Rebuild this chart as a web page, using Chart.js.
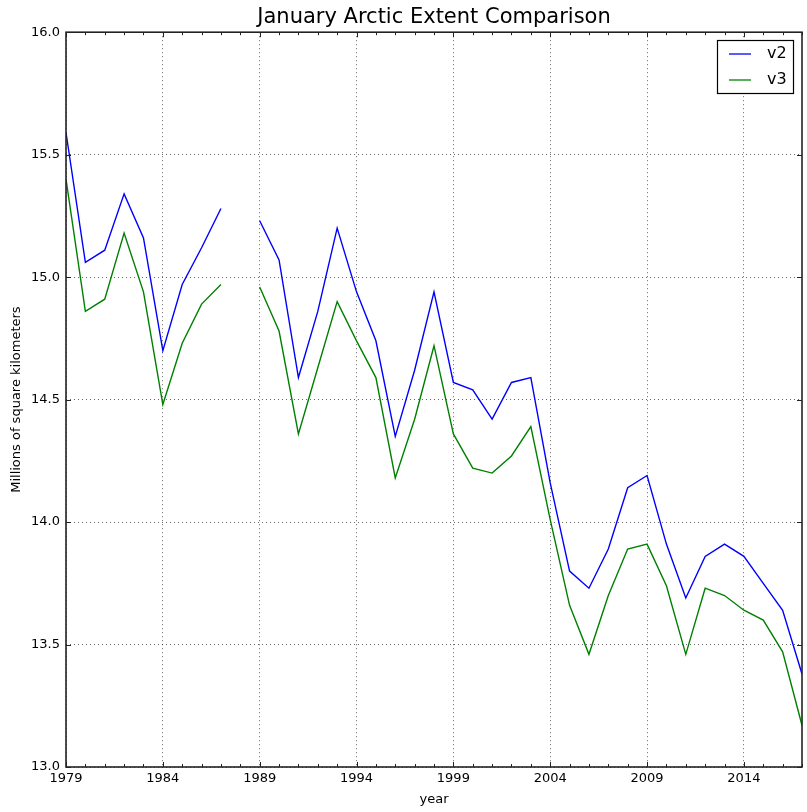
<!DOCTYPE html>
<html>
<head>
<meta charset="utf-8">
<script src="https://cdn.jsdelivr.net/npm/chart.js@4"></script>
<style>
  html, body { margin: 0; padding: 0; background: #fff; }
  #wrap { width: 807px; height: 812px; }
</style>
</head>
<body>
<div id="wrap"><canvas id="c" width="807" height="812"></canvas></div>
<script>
// January sea ice extent, millions of km², two data versions (1988 missing)
const years = [1979, 1980, 1981, 1982, 1983, 1984, 1985, 1986, 1987, 1988,
               1989, 1990, 1991, 1992, 1993, 1994, 1995, 1996, 1997, 1998,
               1999, 2000, 2001, 2002, 2003, 2004, 2005, 2006, 2007, 2008,
               2009, 2010, 2011, 2012, 2013, 2014, 2015, 2016, 2017];
const v2 = [15.59, 15.06, 15.11, 15.34, 15.16, 14.70, 14.97, 15.12, 15.28, null,
            15.23, 15.07, 14.59, 14.86, 15.20, 14.94, 14.74, 14.35, 14.62, 14.94,
            14.57, 14.54, 14.42, 14.57, 14.59, 14.16, 13.80, 13.73, 13.89, 14.14,
            14.19, 13.91, 13.69, 13.86, 13.91, 13.86, 13.75, 13.64, 13.38];
const v3 = [15.40, 14.86, 14.91, 15.18, 14.94, 14.48, 14.73, 14.89, 14.97, null,
            14.96, 14.78, 14.36, 14.63, 14.90, 14.74, 14.59, 14.18, 14.42, 14.72,
            14.36, 14.22, 14.20, 14.27, 14.39, 14.01, 13.66, 13.46, 13.70, 13.89,
            13.91, 13.74, 13.46, 13.73, 13.70, 13.64, 13.60, 13.47, 13.17];
const xTickYears = [1979, 1984, 1989, 1994, 1999, 2004, 2009, 2014];
const yTickValues = [13.0, 13.5, 14.0, 14.5, 15.0, 15.5, 16.0];

const seriesNames = ['v2', 'v3'];
const seriesColors = ['#0000ff', '#008000'];
const FONT = 'DejaVu Sans';

const toPoints = vals => years.map((yr, i) => ({ x: yr, y: vals[i] }));

// Frame, inward tick marks and the boxed legend inside the plot
const decor = {
  id: 'decor',
  afterDraw(chart) {
    const { ctx, chartArea: a, scales: { x, y } } = chart;
    ctx.save();
    ctx.strokeStyle = '#222';
    ctx.lineWidth = 1;
    ctx.setLineDash([]);
    ctx.beginPath();
    years.forEach(yr => {
      const px = Math.round(x.getPixelForValue(yr)) + 0.5;
      const len = xTickYears.includes(yr) ? 5 : 3;
      ctx.moveTo(px, a.bottom); ctx.lineTo(px, a.bottom - len);
      ctx.moveTo(px, a.top); ctx.lineTo(px, a.top + len);
    });
    yTickValues.forEach(v => {
      const py = Math.round(y.getPixelForValue(v)) + 0.5;
      ctx.moveTo(a.left, py); ctx.lineTo(a.left + 5, py);
      ctx.moveTo(a.right, py); ctx.lineTo(a.right - 5, py);
    });
    ctx.stroke();

    ctx.lineWidth = 1.6;
    ctx.strokeStyle = '#222';
    ctx.strokeRect(a.left, a.top, a.right - a.left, a.bottom - a.top);

    // legend
    const bx = 717.5, by = 40.5, bw = 76, bh = 53;
    ctx.fillStyle = '#fff';
    ctx.fillRect(bx, by, bw, bh);
    ctx.lineWidth = 1.2;
    ctx.strokeStyle = '#000';
    ctx.strokeRect(bx, by, bw, bh);
    ctx.font = '16px "' + FONT + '"';
    ctx.textBaseline = 'middle';
    ctx.textAlign = 'left';
    seriesNames.forEach((name, i) => {
      const ly = 54 + i * 26;
      ctx.strokeStyle = seriesColors[i];
      ctx.lineWidth = 1.3;
      ctx.beginPath();
      ctx.moveTo(729, ly); ctx.lineTo(751, ly);
      ctx.stroke();
      ctx.fillStyle = '#000';
      ctx.fillText(name, 767, ly);
    });
    ctx.restore();
  }
};

new Chart(document.getElementById('c'), {
  type: 'line',
  data: {
    datasets: seriesNames.map((name, i) => ({
      label: name,
      data: toPoints(i === 0 ? v2 : v3),
      borderColor: seriesColors[i],
      backgroundColor: seriesColors[i],
      borderWidth: 1.4,
      pointRadius: 0,
      tension: 0,
      spanGaps: false
    }))
  },
  options: {
    responsive: false,
    animation: false,
    devicePixelRatio: 1,
    layout: { padding: { left: 0, right: 5, top: 0, bottom: 0 } },
    plugins: {
      legend: { display: false },
      tooltip: { enabled: false },
      title: {
        display: true,
        fullSize: false,
        text: 'January Arctic Extent Comparison',
        color: '#000',
        font: { family: FONT, size: 21, weight: 'normal' },
        padding: { top: 5, bottom: 2 }
      }
    },
    scales: {
      x: {
        type: 'linear',
        min: 1979,
        max: 2017,
        afterBuildTicks: s => { s.ticks = xTickYears.map(v => ({ value: v })); },
        afterFit: s => { s.height = 45; },
        ticks: {
          color: '#000',
          font: { family: FONT, size: 13 },
          padding: 4,
          maxRotation: 0,
          autoSkip: false,
          callback: v => String(v)
        },
        grid: { color: 'rgba(0,0,0,0.6)', lineWidth: 1, drawTicks: false },
        border: { display: false, dash: [1, 3] },
        title: {
          display: true,
          text: 'year',
          color: '#000',
          font: { family: FONT, size: 13 },
          padding: { top: 0, bottom: 5 }
        }
      },
      y: {
        type: 'linear',
        min: 13.0,
        max: 16.0,
        afterBuildTicks: s => { s.ticks = yTickValues.map(v => ({ value: v })); },
        afterFit: s => { s.width = 66; },
        ticks: {
          color: '#000',
          font: { family: FONT, size: 13 },
          padding: 6,
          callback: v => Number(v).toFixed(1)
        },
        grid: { color: 'rgba(0,0,0,0.6)', lineWidth: 1, drawTicks: false },
        border: { display: false, dash: [1, 3] },
        title: {
          display: true,
          text: 'Millions of square kilometers',
          color: '#000',
          font: { family: FONT, size: 13 },
          padding: { top: 9, bottom: 0 }
        }
      }
    }
  },
  plugins: [decor]
});
</script>
</body>
</html>
